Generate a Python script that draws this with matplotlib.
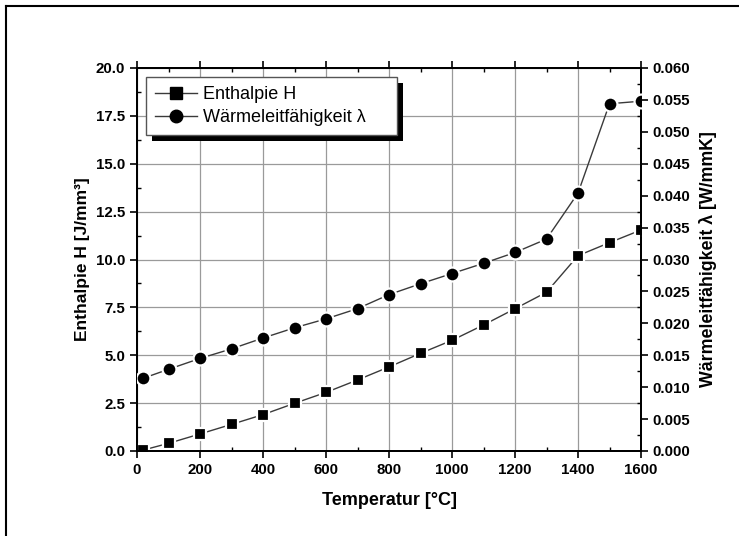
import matplotlib
matplotlib.use("Agg")
import matplotlib.pyplot as plt
from matplotlib.lines import Line2D
from matplotlib.patches import Rectangle
from matplotlib.ticker import MultipleLocator, FormatStrFormatter

plt.rcParams['font.family'] = ['Liberation Sans', 'DejaVu Sans']

temperature = [20, 100, 200, 300, 400, 500, 600, 700, 800, 900, 1000, 1100, 1200, 1300, 1400, 1500, 1600]
enthalpy = [0.05, 0.40, 0.89, 1.39, 1.90, 2.49, 3.06, 3.71, 4.39, 5.10, 5.78, 6.58, 7.43, 8.29, 10.20, 10.88, 11.54]
conductivity = [0.0114, 0.0128, 0.0145, 0.0160, 0.0177, 0.0193, 0.0207, 0.0223, 0.0245, 0.0262, 0.0278, 0.0294, 0.0311, 0.0332, 0.0404, 0.0544, 0.0548]

W, H = 739, 536
fig = plt.figure(figsize=(W / 100, H / 100), dpi=100)
ax = fig.add_axes([137 / W, 1 - 451 / H, (641 - 137) / W, (451 - 68) / H])
ax2 = ax.twinx()

lc = '#3a3a3a'
ax.plot(temperature, enthalpy, color=lc, lw=1.0, marker='s', ms=8.5, mfc='black',
        mec='white', mew=1.6, zorder=3)
ax2.plot(temperature, conductivity, color=lc, lw=1.0, marker='o', ms=10, mfc='black',
         mec='white', mew=1.6, zorder=3)

ax.set_xlim(0, 1600)
ax.set_ylim(0, 20)
ax2.set_ylim(0, 0.06)

ax.xaxis.set_major_locator(MultipleLocator(200))
ax.xaxis.set_minor_locator(MultipleLocator(100))
ax.yaxis.set_major_locator(MultipleLocator(2.5))
ax.yaxis.set_minor_locator(MultipleLocator(1.25))
ax.yaxis.set_major_formatter(FormatStrFormatter('%.1f'))
ax2.yaxis.set_major_locator(MultipleLocator(0.005))
ax2.yaxis.set_minor_locator(MultipleLocator(0.0025))
ax2.yaxis.set_major_formatter(FormatStrFormatter('%.3f'))

ax.grid(True, which='major', color='#9a9a9a', lw=0.9)
ax.set_axisbelow(True)

for a in (ax, ax2):
    for s in a.spines.values():
        s.set_linewidth(1.4)

ax.tick_params(which='major', direction='out', length=5, width=1.2, labelsize=10.8, top=True)
ax.tick_params(which='minor', direction='in', length=3, width=1.0, top=True)
ax2.tick_params(which='major', direction='out', length=5, width=1.2, labelsize=10.8)
ax2.tick_params(which='minor', direction='in', length=3, width=1.0)
for lab in ax.get_xticklabels() + ax.get_yticklabels() + ax2.get_yticklabels():
    lab.set_fontweight('bold')

ax.set_xlabel('Temperatur [°C]', fontsize=13, fontweight='bold', labelpad=11)
ax.set_ylabel('Enthalpie H [J/mm³]', fontsize=12.5, fontweight='bold', labelpad=4)
ax2.set_ylabel('Wärmeleitfähigkeit λ [W/mmK]', fontsize=12.8, fontweight='bold', labelpad=6)

h1 = Line2D([], [], color=lc, lw=1.0, marker='s', ms=8, mfc='black', mec='black')
h2 = Line2D([], [], color=lc, lw=1.0, marker='o', ms=9, mfc='black', mec='black')
leg = ax2.legend([h1, h2], ['Enthalpie H', 'Wärmeleitfähigkeit λ'], loc='upper left',
                 bbox_to_anchor=((146 - 137) / 504, (451 - 77) / 383), fontsize=13,
                 frameon=False, handlelength=2.3, borderpad=0.5,
                 labelspacing=0.35, handletextpad=0.35, borderaxespad=0)
leg.set_zorder(10)

# legend box (wider than the text, as in the original) and its shadow
fig.canvas.draw()
bb = leg.get_window_extent().transformed(fig.transFigure.inverted())
extra = 22 / W
off_x, off_y = 6 / W, 6 / H
ax2.add_patch(Rectangle((bb.x0 + off_x, bb.y0 - off_y), bb.width + extra, bb.height,
                        transform=fig.transFigure, facecolor='black', edgecolor='none',
                        zorder=8, clip_on=False))
ax2.add_patch(Rectangle((bb.x0, bb.y0), bb.width + extra, bb.height,
                        transform=fig.transFigure, facecolor='white', edgecolor='#555555',
                        lw=1.0, zorder=9, clip_on=False))

# figure border (left and top)
fig.add_artist(Line2D([6 / W, 6 / W], [0, 1 - 6 / H], transform=fig.transFigure, color='black', lw=1.5))
fig.add_artist(Line2D([6 / W, 1], [1 - 6 / H, 1 - 6 / H], transform=fig.transFigure, color='black', lw=1.5))

fig.savefig('out.png', dpi=100)
